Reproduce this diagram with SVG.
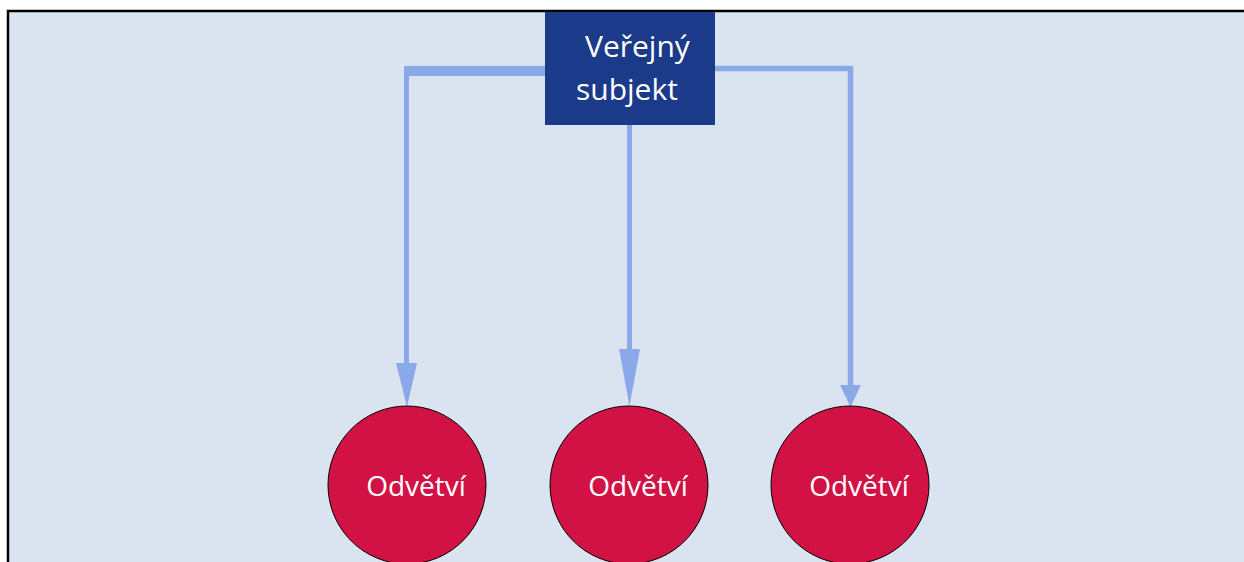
<svg xmlns="http://www.w3.org/2000/svg" width="1244" height="562" viewBox="0 0 1244 562">
<style>
.conn{stroke:#8BA8E8;fill:none}
.head{fill:#8BA8E8}
.circ{fill:#D21245;stroke:#000;stroke-width:1}
.lbl{font-family:"Open Sans","Noto Sans",sans-serif;fill:#fff}
</style>
<rect x="0" y="0" width="1244" height="562" fill="#fff"/>
<rect x="8" y="11" width="1236" height="551" fill="#DAE4F0"/>
<path d="M8,562 V11 H1244" fill="none" stroke="#000" stroke-width="2.5"/>
<g id="connectors">
<rect x="404" y="66" width="141" height="10" fill="#8BA8E8"/>
<path class="conn" stroke-width="5" d="M406.5,66 V364"/>
<polygon class="head" points="396,363 417,363 407,407"/>
<path class="conn" stroke-width="5" d="M629.5,125 V350"/>
<polygon class="head" points="619,349 640,349 629.5,406"/>
<path class="conn" stroke-width="5.5" d="M715,68.5 H850.5 V386"/>
<polygon class="head" points="840,385 861,385 850.5,407"/>
</g>
<g id="node-verejny">
<rect x="545" y="12" width="170" height="113" fill="#1B3A8A"/>
<text class="lbl" font-size="30" x="585" y="57">Veřejný</text>
<text class="lbl" font-size="30" x="576" y="100">subjekt</text>
</g>
<g id="node-odvetvi-1">
<circle class="circ" cx="407" cy="485" r="79"/>
<text class="lbl" font-size="28" x="416" y="496" text-anchor="middle">Odvětví</text>
</g>
<g id="node-odvetvi-2">
<circle class="circ" cx="629" cy="485" r="79"/>
<text class="lbl" font-size="28" x="638" y="496" text-anchor="middle">Odvětví</text>
</g>
<g id="node-odvetvi-3">
<circle class="circ" cx="850" cy="485" r="79"/>
<text class="lbl" font-size="28" x="859" y="496" text-anchor="middle">Odvětví</text>
</g>
</svg>
